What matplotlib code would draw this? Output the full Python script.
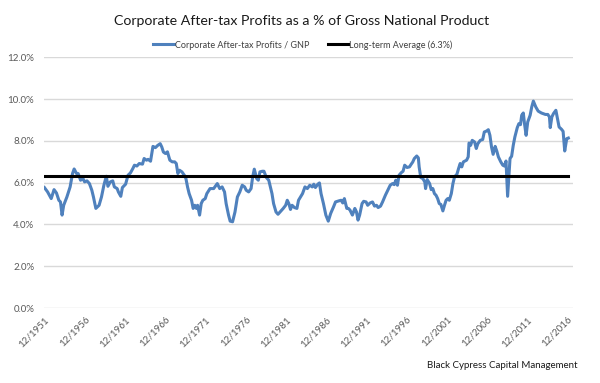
import matplotlib.pyplot as plt

# ============================================================
# Data
# ============================================================

years = [
    1951.9, 1952.3, 1952.75, 1953.1, 1953.4, 1953.7, 1953.9, 1954.1, 1954.3, 1954.7,
    1955.1, 1955.4, 1955.6, 1955.9, 1956.1, 1956.4, 1956.7, 1956.9, 1957.2, 1957.5,
    1957.8, 1958.0, 1958.3, 1958.7, 1959.0, 1959.3, 1959.6, 1959.8, 1960.1, 1960.4,
    1960.6, 1960.95, 1961.1, 1961.4, 1961.6, 1962.0, 1962.3, 1962.6, 1962.9, 1963.1,
    1963.4, 1963.7, 1964.1, 1964.3, 1964.6, 1964.8, 1965.1, 1965.4, 1965.7, 1966.0,
    1966.3, 1966.5, 1966.7, 1966.95, 1967.2, 1967.5, 1967.8, 1968.1, 1968.3, 1968.5,
    1968.7, 1969.0, 1969.3, 1969.5, 1969.7, 1969.9, 1970.2, 1970.4, 1970.6, 1970.8,
    1970.95, 1971.2, 1971.4, 1971.6, 1971.9, 1972.1, 1972.5, 1972.95, 1973.4, 1973.7,
    1974.0, 1974.3, 1974.5, 1974.8, 1975.0, 1975.3, 1975.6, 1975.9, 1976.2, 1976.5,
    1976.8, 1977.0, 1977.3, 1977.6, 1977.8, 1978.0, 1978.3, 1978.5, 1978.7, 1979.0,
    1979.2, 1979.5, 1979.8, 1980.0, 1980.2, 1980.4, 1980.7, 1980.95, 1981.2, 1981.6,
    1981.9, 1982.1, 1982.3, 1982.5, 1982.7, 1983.0, 1983.3, 1983.5, 1983.8, 1984.0,
    1984.3, 1984.6, 1984.9, 1985.2, 1985.4, 1985.6, 1985.9, 1986.1, 1986.3, 1986.6,
    1986.9, 1987.2, 1987.5, 1987.85, 1988.1, 1988.5, 1988.8, 1989.0, 1989.2, 1989.5,
    1989.7, 1989.9, 1990.2, 1990.5, 1990.7, 1990.9, 1991.1, 1991.4, 1991.6, 1991.9,
    1992.1, 1992.4, 1992.7, 1992.95, 1993.2, 1993.4, 1993.7, 1993.95, 1994.3, 1994.6,
    1994.9, 1995.2, 1995.4, 1995.6, 1995.8, 1996.0, 1996.3, 1996.5, 1996.7, 1997.0,
    1997.3, 1997.5, 1997.7, 1997.9, 1998.2, 1998.4, 1998.5, 1998.7, 1998.95, 1999.2,
    1999.3, 1999.5, 1999.8, 2000.0, 2000.2, 2000.4, 2000.6, 2000.8, 2001.0, 2001.2,
    2001.45, 2001.65, 2001.85, 2002.05, 2002.25, 2002.5, 2002.7, 2002.9, 2003.2, 2003.4,
    2003.6, 2003.8, 2004.0, 2004.4, 2004.6, 2004.7, 2004.9, 2005.1, 2005.4, 2005.6,
    2005.8, 2006.1, 2006.4, 2006.6, 2006.9, 2007.1, 2007.3, 2007.5, 2007.7, 2007.95,
    2008.15, 2008.35, 2008.65, 2008.9, 2009.1, 2009.3, 2009.5, 2009.8, 2010.0, 2010.2,
    2010.4, 2010.7, 2010.9, 2011.1, 2011.25, 2011.45, 2011.6, 2011.8, 2012.0, 2012.3,
    2012.5, 2012.7, 2013.0, 2013.3, 2013.7, 2014.2, 2014.5, 2014.7, 2014.8, 2015.0,
    2015.2, 2015.5, 2015.7, 2015.9, 2016.2, 2016.4, 2016.6, 2016.85, 2017.05,
]

profits_pct = [
    5.77, 5.56, 5.24, 5.67, 5.51, 5.16, 5.08, 4.45, 4.92, 5.32,
    5.80, 6.44, 6.66, 6.44, 6.44, 6.12, 6.20, 6.04, 6.09, 5.96,
    5.64, 5.32, 4.77, 4.92, 5.32, 5.88, 6.31, 5.83, 6.04, 6.09,
    5.80, 5.72, 5.56, 5.35, 5.77, 5.93, 6.36, 6.47, 6.68, 6.84,
    6.80, 6.92, 6.89, 7.16, 7.08, 7.12, 7.03, 7.74, 7.68, 7.79,
    7.87, 7.71, 7.47, 7.40, 7.48, 7.08, 7.00, 7.00, 6.92, 6.44,
    6.60, 6.52, 6.36, 6.20, 5.80, 5.48, 5.16, 4.77, 4.92, 4.77,
    4.92, 4.45, 5.00, 5.16, 5.24, 5.48, 5.72, 5.72, 5.96, 5.72,
    5.80, 5.56, 5.00, 4.45, 4.16, 4.13, 4.60, 5.32, 5.56, 5.88,
    5.80, 5.64, 5.56, 5.72, 6.28, 6.65, 6.20, 6.12, 6.52, 6.55,
    6.55, 6.25, 6.12, 5.80, 5.48, 5.00, 4.60, 4.49, 4.60, 4.77,
    4.92, 5.16, 5.00, 4.72, 4.92, 4.81, 4.77, 5.16, 5.35, 5.48,
    5.80, 5.72, 5.88, 5.80, 5.93, 5.77, 5.93, 5.99, 5.48, 5.00,
    4.45, 4.16, 4.53, 4.84, 5.08, 5.13, 5.16, 5.03, 5.24, 4.77,
    4.77, 4.69, 4.45, 4.77, 4.61, 4.21, 4.45, 5.00, 5.11, 5.08,
    4.92, 5.03, 5.08, 4.88, 4.92, 4.81, 4.88, 5.08, 5.40, 5.64,
    5.88, 5.96, 5.91, 6.12, 5.88, 6.36, 6.49, 6.55, 6.84, 6.73,
    6.76, 6.88, 6.99, 7.16, 7.28, 7.19, 6.76, 6.25, 6.20, 6.04,
    5.72, 6.15, 5.96, 5.67, 5.72, 5.48, 5.40, 5.24, 5.00, 4.96,
    4.65, 4.92, 5.16, 5.24, 5.16, 5.48, 5.96, 6.28, 6.41, 6.68,
    6.92, 6.76, 7.00, 7.08, 7.24, 7.90, 7.79, 8.03, 7.95, 7.64,
    7.87, 8.03, 8.07, 8.43, 8.48, 8.54, 8.27, 7.71, 7.36, 7.74,
    7.52, 7.24, 7.00, 6.84, 6.80, 7.04, 5.35, 7.16, 7.27, 7.79,
    8.19, 8.64, 8.83, 8.78, 9.23, 9.34, 8.83, 8.27, 8.91, 9.23,
    9.63, 9.91, 9.63, 9.43, 9.34, 9.27, 9.27, 9.15, 8.64, 9.15,
    9.31, 9.47, 9.07, 8.67, 8.56, 8.46, 7.52, 8.11, 8.14,
]

long_term_avg = 6.3

tick_years = [1951.92 + 5 * k for k in range(14)]
tick_labels = [f"12/{1951 + 5 * k}" for k in range(14)]
y_ticks = [0, 2, 4, 6, 8, 10, 12]

# ============================================================
# Figure
# ============================================================

plt.rcParams["font.family"] = ["Lato", "DejaVu Sans"]

fig = plt.figure(figsize=(6, 3.83), dpi=100)
ax = fig.add_axes([0.0733, 0.1958, 0.8817, 0.6542])

ax.plot(years, profits_pct, color="#4F81BD", lw=2.2,
        label="Corporate After-tax Profits / GNP", zorder=3)
ax.plot([years[0], years[-1]], [long_term_avg, long_term_avg],
        color="black", lw=2.2, label="Long-term Average (6.3%)", zorder=4)

ax.set_xlim(1951.85, 2017.63)
ax.set_ylim(0, 12)
ax.set_yticks(y_ticks)
ax.set_yticklabels([f"{v:.1f}%" for v in y_ticks])
ax.set_xticks(tick_years)
ax.set_xticklabels(tick_labels, rotation=45, ha="right", rotation_mode="anchor")

ax.grid(axis="y", color="#d9d9d9", lw=1)
ax.set_axisbelow(True)
for s in ax.spines.values():
    s.set_visible(False)
ax.tick_params(axis="both", length=0, labelsize=7, labelcolor="#595959")
ax.tick_params(axis="y", pad=7)
ax.tick_params(axis="x", pad=5)

# ============================================================
# Texts
# ============================================================

fig.text(0.503, 0.945, "Corporate After-tax Profits as a % of Gross National Product",
         ha="center", va="center", fontsize=10.2, color="#1a1a1a")

fig.legend(loc="center", bbox_to_anchor=(0.505, 0.883), ncol=2, frameon=False,
           fontsize=6.5, handlelength=2.3, handletextpad=0.1, columnspacing=2.0,
           labelcolor="#404040")

fig.text(0.962, 0.045, "Black Cypress Capital Management",
         ha="right", va="center", fontsize=7, color="#1a1a1a")

fig.savefig("out.png", dpi=100)
